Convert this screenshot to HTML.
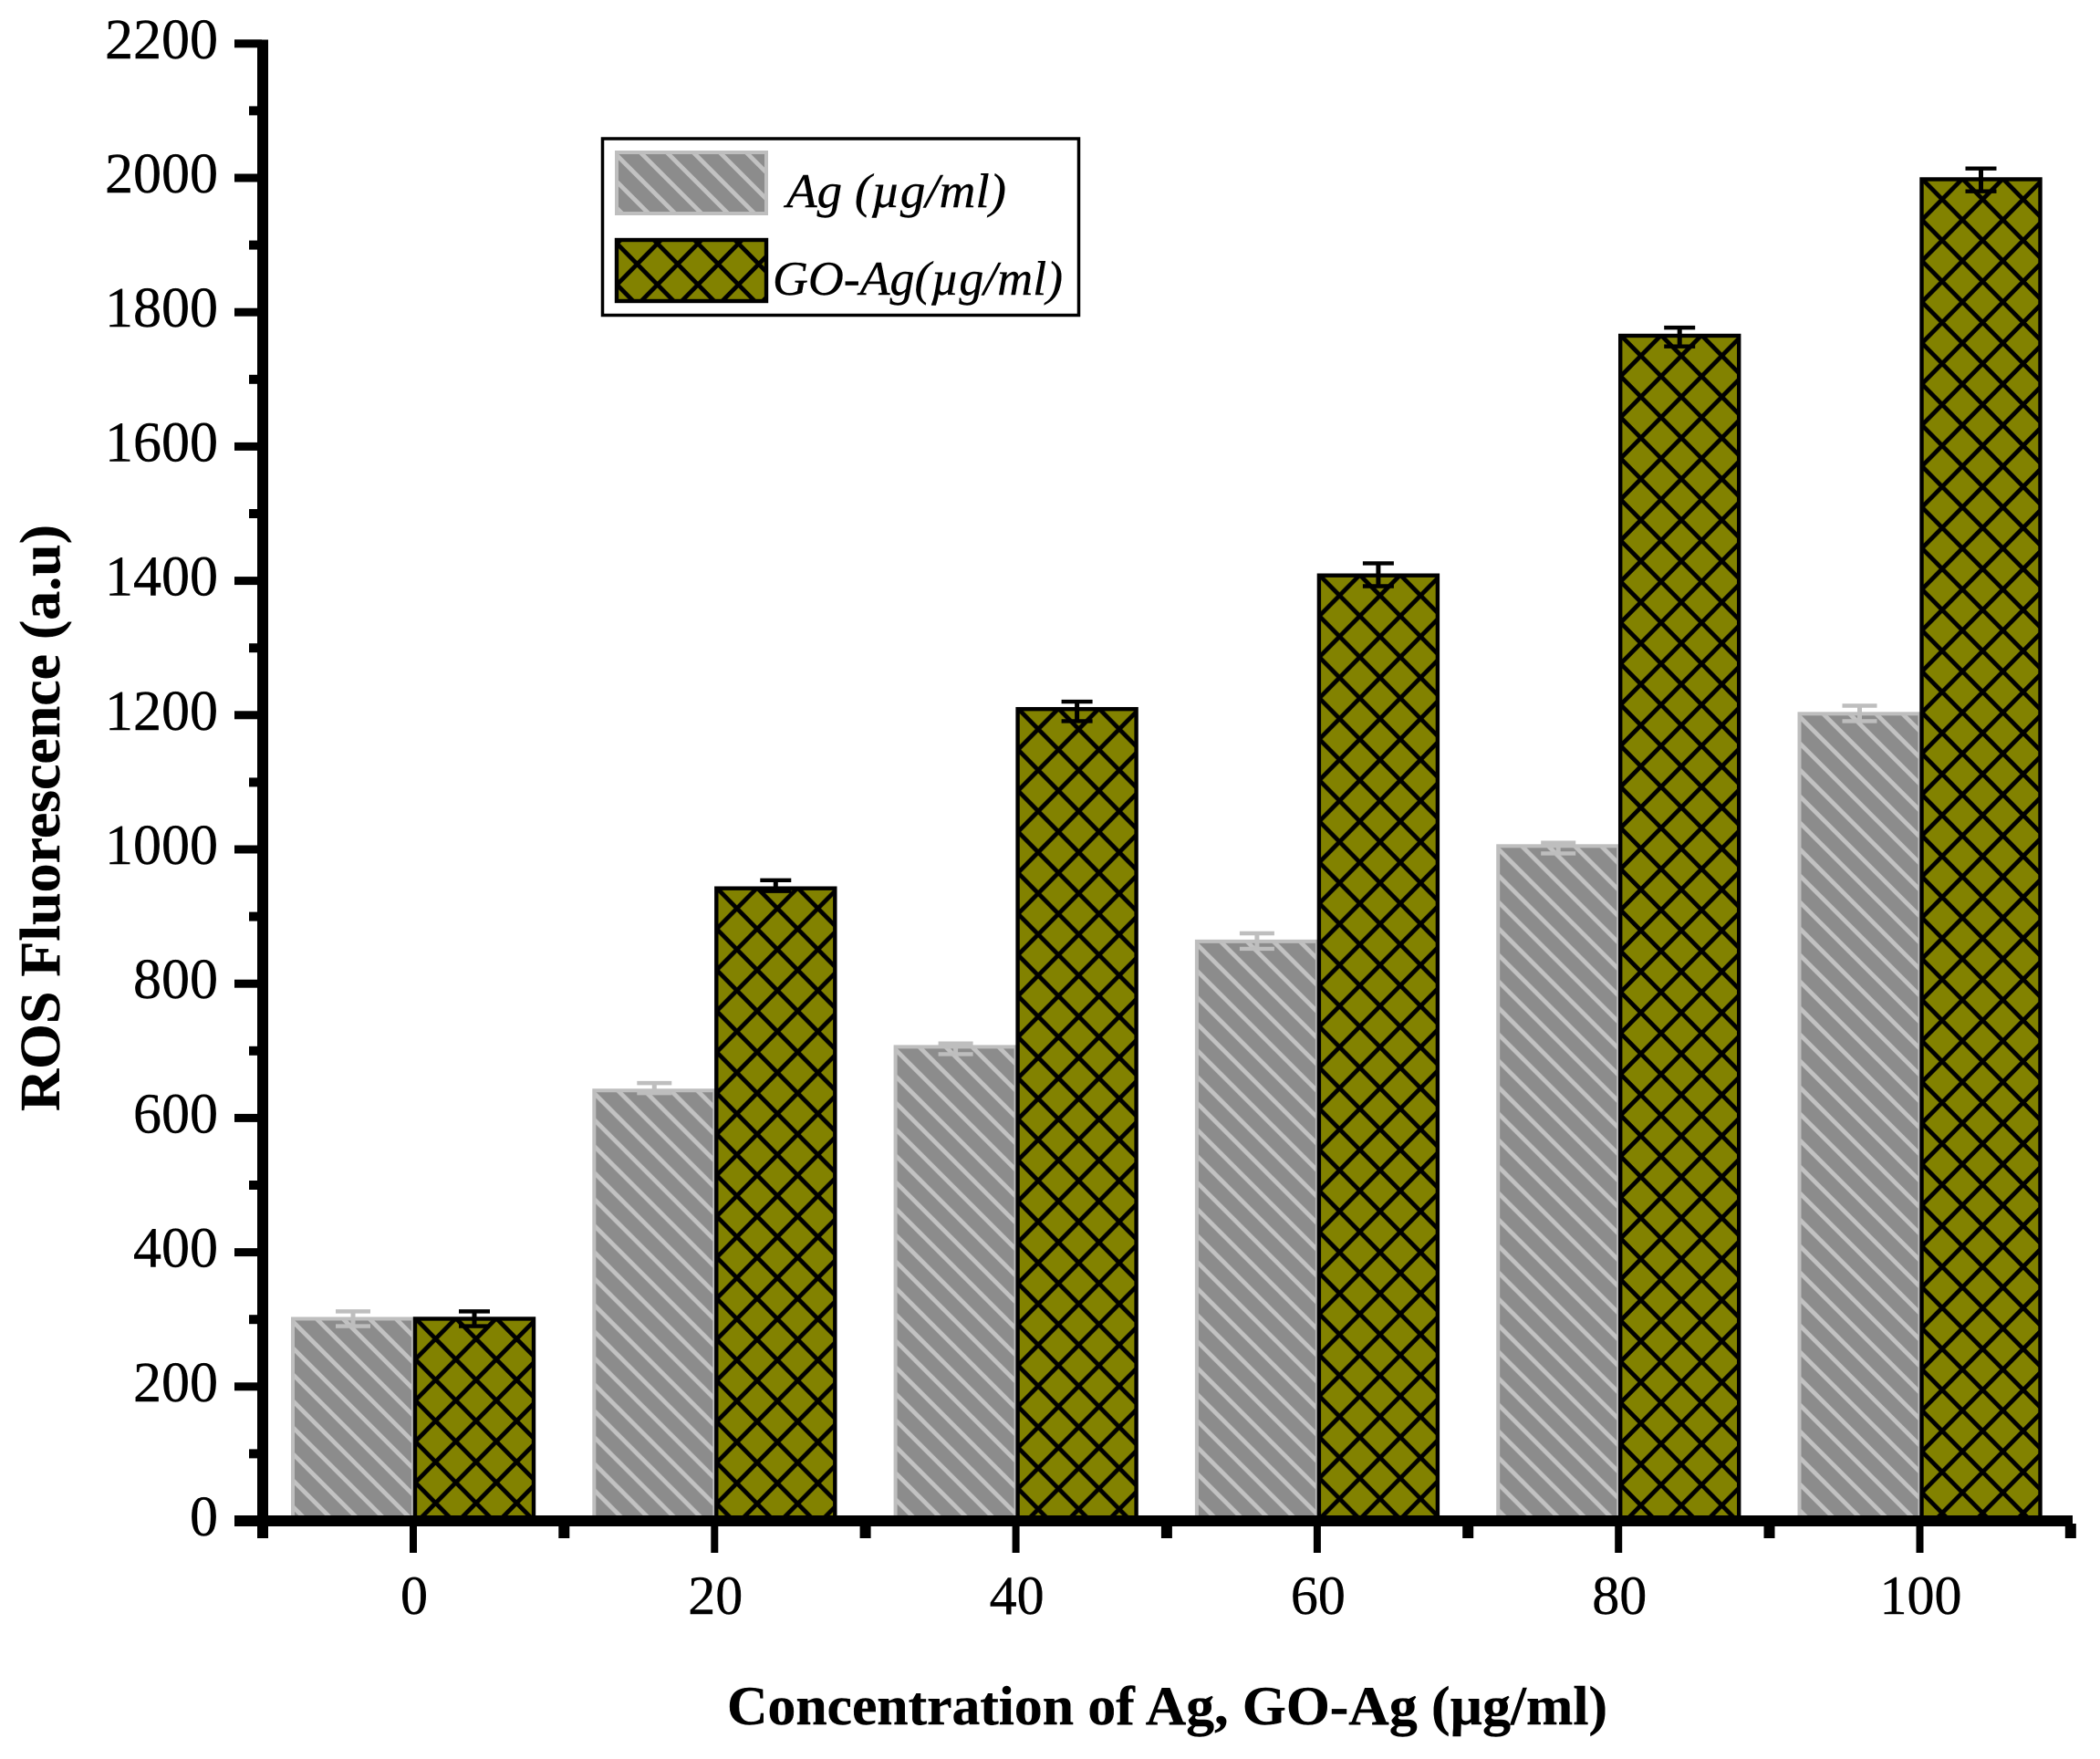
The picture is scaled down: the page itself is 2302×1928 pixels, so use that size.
<!DOCTYPE html>
<html lang="en">
<head>
<meta charset="utf-8">
<title>ROS Fluorescence bar chart</title>
<style>
html,body{margin:0;padding:0;background:#fff;}
svg{display:block;}
text{font-family:"Liberation Serif","DejaVu Serif",serif;fill:#000;stroke:#000;stroke-width:0.4;}
</style>
</head>
<body>
<svg id="chart" xmlns="http://www.w3.org/2000/svg" width="2302" height="1928" viewBox="0 0 2302 1928">
  <defs id="defs">
    <filter id="soft" x="-5%" y="-5%" width="110%" height="110%"><feGaussianBlur stdDeviation="0.6"/></filter>
  </defs>
  <rect x="0" y="0" width="2302" height="1928" fill="#fff"/>
  <g id="bars"></g>
  <g id="errors"></g>
  <g id="axes"></g>
  <text x="797" y="1890" font-size="60" font-weight="bold" textLength="965" lengthAdjust="spacingAndGlyphs">Concentration of Ag, GO-Ag (µg/ml)</text>
  <text transform="translate(65,1218) rotate(-90)" x="0" y="0" font-size="62" font-weight="bold" textLength="643" lengthAdjust="spacingAndGlyphs">ROS Fluorescence (a.u)</text>
  <g id="legend">
    <rect x="660.5" y="152" width="522" height="193.5" fill="#fff" stroke="#000" stroke-width="3.5"/>
    <g id="legend-swatches"></g>
    <text x="862" y="227" font-size="53" font-style="italic" textLength="241" lengthAdjust="spacingAndGlyphs">Ag (µg/ml)</text>
    <text x="847" y="323" font-size="53" font-style="italic" textLength="318" lengthAdjust="spacingAndGlyphs">GO-Ag(µg/ml)</text>
  </g>
</svg>
<script>
const categories = ['0', '20', '40', '60', '80', '100'];
const agValues = [301, 641, 706, 863, 1005, 1202];
const goAgValues = [301, 942, 1209, 1408, 1765, 1998];
const agErrUp = [11, 11, 5, 12, 5, 12];
const agErrDown = [11, 4, 11, 11, 11, 11];
const goAgErrUp = [11, 12, 11, 18, 12, 16];
const goAgErrDown = [11, 4, 18, 16, 16, 18];
const yTickLabels = ['0', '200', '400', '600', '800', '1000', '1200', '1400', '1600', '1800', '2000', '2200'];
const yMinorTicks = [100, 300, 500, 700, 900, 1100, 1300, 1500, 1700, 1900, 2100];

const NS = 'http://www.w3.org/2000/svg';
function yScale(v) { return 1667 - v * 0.736; }
function xCenter(i) { return 453 + i * 330.3; }
function xEdge(i) { return 288 + i * 330.3; }

function make(tag, attrs, parent) {
  const el = document.createElementNS(NS, tag);
  for (const k in attrs) el.setAttribute(k, attrs[k]);
  parent.appendChild(el);
  return el;
}

const defs = document.getElementById('defs');
const barsG = document.getElementById('bars');
const errG = document.getElementById('errors');
const axesG = document.getElementById('axes');
const swatchG = document.getElementById('legend-swatches');

function stripePattern(id, left, top) {
  const p = make('pattern', {id: id, patternUnits: 'userSpaceOnUse', x: left, y: top, width: 29, height: 29}, defs);
  make('rect', {x: 0, y: 0, width: 29, height: 29, fill: '#8c8c8c'}, p);
  const d = 'M-10 -7L40 43M-10 -36L40 14M-10 22L40 72';
  make('path', {d: d, stroke: '#c2c2c2', 'stroke-width': 4.8, fill: 'none'}, p);
}
function latticePattern(id, ox, oy) {
  const w = 44.4, h = 45;
  const p = make('pattern', {id: id, patternUnits: 'userSpaceOnUse', x: ox, y: oy, width: w, height: h}, defs);
  make('rect', {x: 0, y: 0, width: w, height: h, fill: '#828200'}, p);
  const d = 'M' + (-w) + ' ' + (-h) + 'L' + (2 * w) + ' ' + (2 * h) + 'M' + (2 * w) + ' ' + (-h) + 'L' + (-w) + ' ' + (2 * h);
  make('path', {d: d, stroke: '#000', 'stroke-width': 4.8, fill: 'none'}, p);
}

categories.forEach(function (c, i) {
  const cx = xCenter(i);
  const top = yScale(agValues[i]);
  stripePattern('ag-p' + i, cx - 134, top - 2);
  const bar = make('rect', {x: cx - 132, y: top, width: 132, height: 1667 - top, fill: 'url(#ag-p' + i + ')', stroke: '#bebebe', 'stroke-width': 4}, barsG);
  
  
});
categories.forEach(function (c, i) {
  const cx = xCenter(i);
  const top = yScale(goAgValues[i]);
  latticePattern('go-p' + i, cx + 24.5 - 22.2, top - 2 + 24 - 22.5);
  const bar = make('rect', {x: cx + 2, y: top, width: 130, height: 1667 - top, fill: 'url(#go-p' + i + ')', stroke: '#000', 'stroke-width': 4.4}, barsG);
  
  
});

function errorBar(cx, value, up, down, color, capW, group) {
  const yU = yScale(value + up);
  const yD = yScale(value - down);
  make('line', {x1: cx, x2: cx, y1: yU, y2: yD, stroke: color, 'stroke-width': 5}, group);
  make('line', {x1: cx - capW / 2, x2: cx + capW / 2, y1: yU, y2: yU, stroke: color, 'stroke-width': 4.4}, group);
  make('line', {x1: cx - capW / 2, x2: cx + capW / 2, y1: yD, y2: yD, stroke: color, 'stroke-width': 4.4}, group);
}
categories.forEach(function (c, i) {
  const g1 = make('g', {}, errG);
  
  
  errorBar(xCenter(i) - 66, agValues[i], agErrUp[i], agErrDown[i], '#bebebe', 38, g1);
  const g2 = make('g', {}, errG);
  
  
  errorBar(xCenter(i) + 67, goAgValues[i], goAgErrUp[i], goAgErrDown[i], '#000', 34, g2);
});

/* axes */
const yLine = make('rect', {x: 282, y: 43.5, width: 12, height: 1642.5, fill: '#000'}, axesG);


const xLine = make('rect', {x: 257, y: 1661, width: 2015, height: 12, fill: '#000'}, axesG);



yTickLabels.forEach(function (label) {
  const v = Number(label);
  const y = yScale(v);
  const t = make('rect', {x: 257, y: y - 4.5, width: 30, height: 9, fill: '#000'}, axesG);
  
  
  const tx = make('text', {x: 239, y: y + 16, 'font-size': 62, 'text-anchor': 'end'}, axesG);
  tx.textContent = label;
  
  
});
yMinorTicks.forEach(function (v) {
  const y = yScale(v);
  const t = make('rect', {x: 273, y: y - 5, width: 14, height: 10, fill: '#000'}, axesG);
  
  
});
categories.forEach(function (c, i) {
  const cx = xCenter(i);
  const t = make('rect', {x: cx - 4, y: 1670, width: 8, height: 32, fill: '#000'}, axesG);
  
  
  const tx = make('text', {x: cx + 1, y: 1769, 'font-size': 60, 'text-anchor': 'middle'}, axesG);
  tx.textContent = c;
  
  
});
for (let i = 0; i <= categories.length; i++) {
  const x = xEdge(i);
  const t = make('rect', {x: x - 6, y: 1670, width: 12, height: 16, fill: '#000'}, axesG);
  
  
}

/* legend swatches */
stripePattern('leg-ag', 674, 165);
latticePattern('leg-go', 676.3, 267);
const sw1 = make('rect', {x: 676, y: 167, width: 164, height: 67, fill: 'url(#leg-ag)', stroke: '#bebebe', 'stroke-width': 4}, swatchG);


const sw2 = make('rect', {x: 676, y: 263, width: 164, height: 67, fill: 'url(#leg-go)', stroke: '#000', 'stroke-width': 4.4}, swatchG);


</script>
</body>
</html>
